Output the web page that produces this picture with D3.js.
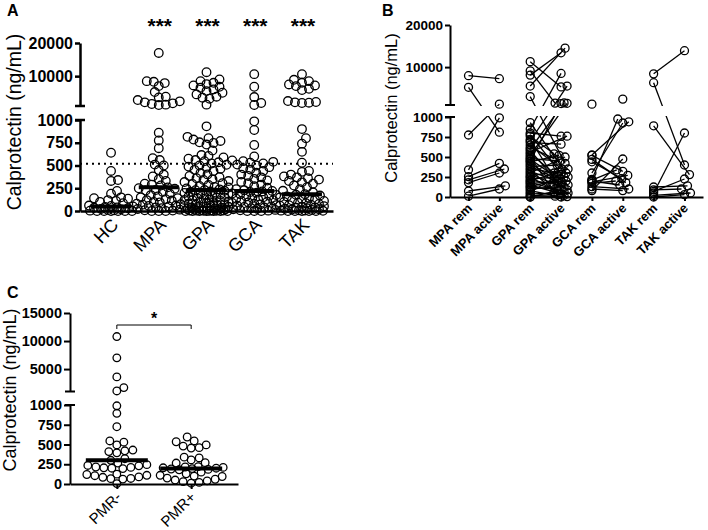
<!DOCTYPE html>
<html>
<head>
<meta charset="UTF-8">
<script src="https://d3js.org/d3.v7.min.js"></script>
<style>
  body { margin: 0; background: #fff; }
  text { font-family: "Liberation Sans", Arial, Helvetica, sans-serif; }
</style>
</head>
<body>
<div id="chart"></div>
<script>
// ---------- data ----------
// panel A
const catsA = ["HC", "MPA", "GPA", "GCA", "TAK"];
const hcVals = [640, 440, 340, 330, 220, 190, 150, 140, 135, 120, 110, 100, 85, 60, 55, 50, 45, 40, 35, 30, 22, 18, 12, 8, 4, 0, 0, 0, 0, 0, 0];
const mpaVals = [17000, 8500, 8300, 7900, 7000, 5200, 3800, 3600, 2800, 2400, 2100, 1800, 1600, 1400, 1300,
  860, 775, 690, 580, 560, 510, 500, 450, 400, 380, 350, 330, 300, 290, 280, 260,
  250, 245, 230, 225, 210, 190, 175, 160, 150, 140, 130, 120, 115, 100, 95, 80, 75, 70, 60, 55, 50, 40, 30, 22, 15, 8, 5, 0, 0, 0];
const gpaVals = [11200, 9000, 8500, 8000, 7600, 7200, 6800, 6500, 6000, 5500, 5000, 4500, 3800, 3500, 3200, 1400,
  930, 815, 800, 785, 770, 755, 748, 730, 665, 615, 605, 588, 575, 560, 548, 535, 522, 508, 500, 488, 476, 465, 452, 440,
  418, 402, 385, 372, 360, 348, 341, 329, 318, 305, 298, 287, 276, 265, 258, 248, 238, 230,
  228, 222, 214, 210, 203, 198, 192, 186, 180, 176, 168, 163, 158, 150, 146, 140, 133, 128, 122, 118, 110, 104, 98, 92,
  88, 80, 76, 70, 66, 60, 55, 50, 46, 40, 36, 32, 28, 25, 22, 18, 15, 12, 10, 8, 6, 5, 4, 3, 2, 1, 0, 0, 0, 0, 0, 0, 0];
const gcaVals = [10600, 6800, 3700, 1900, 1300,
  985, 890, 725, 600, 555, 548, 540, 530, 522, 510, 500, 482, 470, 455, 440, 420, 400, 385, 370, 352, 335, 320, 305, 290, 272, 255, 240, 228, 220,
  215, 208, 200, 192, 184, 176, 168, 160, 150, 142, 135, 126, 118, 110, 102, 95, 88, 80, 72, 65, 58, 50, 44, 38, 30, 24, 18, 12, 8, 4, 0, 0, 0];
const takVals = [10600, 8900, 8500, 8000, 7500, 7200, 7000, 6200, 5800, 2500, 2200, 2100, 2000, 1900,
  900, 800, 740, 650, 530, 440, 430, 400, 380, 370, 360, 345, 330, 315, 300, 280, 262, 240, 222, 205, 185,
  178, 170, 160, 150, 142, 133, 125, 118, 110, 100, 92, 85, 78, 70, 64, 58, 52, 46, 40, 35, 30, 25, 20, 16, 12, 9, 6, 4, 2, 0, 0, 0, 0, 0];
const groupsA = [hcVals, mpaVals, gpaVals, gcaVals, takVals];
const mediansA = [50, 260, 230, 220, 185];
const cutoffA = 520;
const starsA = ["", "***", "***", "***", "***"];

// panel B (paired: rem[i] -> active[i], null = no partner)
const catsB = ["MPA rem", "MPA active", "GPA rem", "GPA active", "GCA rem", "GCA active", "TAK rem", "TAK active"];
const mpaRem = [7960, 5200, 775, 340, 255, 215, 180, 75, 10];
const mpaAct = [7250, 810, 1200, 990, 420, 350, 300, 140, 100];
const gpaRem = [11300, 9100, 8100, 5500, 3000, 850, 700, 600, 520, 450, 930,
  800, 780, 760, 720, 680, 650, 620, 580, 560, 540, 500, 480, 470, 440, 420, 400, 380, 360, 340, 320,
  300, 280, 260, 250, 230, 210, 200, 180, 170, 150, 130, 120, 100, 80, 60, 40, 20, 0, 0];
const gpaAct = [5300, 1450, 13400, 14500, 420, 8500, 5500, 1500, 1400, 1350, 300,
  760, 250, 540, 100, 660, 350, 480, 200, 760, 300, 60, 450, 150, 520, 230, 90, 400, 280, 30, 180,
  500, 120, 350, 20, 250, 160, 310, 70, 200, 40, 220, 100, 130, 0, 260, 50, 10, 80, 5];
const gcaRem = [1200, 525, 520, 470, 440, 300, 220, 210, 200, 190, 170, 130, 100, 80, null];
const gcaAct = [null, 940, 320, 180, 230, 925, 975, 340, 150, 270, 200, 100, 80, 475, 2400];
const takRem = [8400, 6300, 890, 125, 90, 70, 50, 20, 0];
const takAct = [13900, 400, 280, 140, 100, 225, 800, 50, 30];
const pairsB = [[mpaRem, mpaAct], [gpaRem, gpaAct], [gcaRem, gcaAct], [takRem, takAct]];

// panel C
const catsC = ["PMR-", "PMR+"];
const pmrNeg = [10800, 7000, 3600, 1700, 1100,
  990, 895, 725, 545, 530, 495, 430, 420, 410, 395, 320, 300, 265, 245, 230, 215, 205, 195, 200, 210, 235,
  120, 105, 85, 70, 62, 68, 90, 110, 125, 5];
const pmrPos = [595, 545, 535, 495, 480, 460, 455, 340, 330, 305, 270, 265, 220, 215, 210, 205, 200, 195, 190,
  185, 180, 150, 130, 110, 100, 95, 75, 60, 50, 40, 30, 20, 10];
const groupsC = [pmrNeg, pmrPos];
const mediansC = [300, 195];
const starC = "*";

const ticksLower = [0, 250, 500, 750, 1000];
const ticksUpperA = [10000, 20000];
const ticksUpperB = [10000, 20000];
const ticksUpperC = [5000, 10000, 15000];

// ---------- helpers ----------
const width = 708, height = 530;
const svg = d3.select("#chart").append("svg")
  .attr("width", width).attr("height", height);

function broken(lo, hi) {
  return v => v > 1000 ? hi(v) : lo(v);
}

// simple beeswarm: returns [{v, y, dx}]
function swarm(vals, yf, sep, maxW) {
  const pts = vals.map(v => ({v: v, y: yf(v)})).sort((a, b) => b.y - a.y);
  const placed = [];
  pts.forEach(p => {
    let pick = 0, bestD = -1;
    for (let k = 0; k <= 2 * maxW; k++) {
      const dx = k === 0 ? 0 : (k % 2 ? 1 : -1) * Math.ceil(k / 2);
      let dmin = Infinity;
      for (const q of placed) {
        const d = Math.hypot(q.dx - dx, q.y - p.y);
        if (d < dmin) dmin = d;
      }
      if (dmin >= sep) { pick = dx; break; }
      if (dmin > bestD) { bestD = dmin; pick = dx; }
    }
    p.dx = pick;
    placed.push(p);
  });
  return pts;
}

function drawYAxis(g, x, lo, hi, hiTicks, o) {
  const styleAxis = sel => {
    sel.selectAll(".domain").attr("stroke-width", o.sw);
    sel.selectAll(".tick line").attr("stroke-width", o.sw);
    sel.selectAll(".tick text")
      .attr("font-size", o.fs).attr("font-weight", "bold")
      .attr("font-family", "Liberation Sans, Arial, sans-serif").attr("fill", "#000");
  };
  g.append("g").attr("transform", `translate(${x},0)`)
    .call(d3.axisLeft(lo).tickValues(ticksLower).tickSize(o.ts).tickSizeOuter(0).tickPadding(2).tickFormat(d3.format("d")))
    .call(styleAxis);
  g.append("g").attr("transform", `translate(${x},0)`)
    .call(d3.axisLeft(hi).tickValues(hiTicks).tickSize(o.ts).tickSizeOuter(0).tickPadding(2).tickFormat(d3.format("d")))
    .call(styleAxis);
  // segment end caps
  [lo(1000), hi(1000)].forEach(yy => {
    g.append("line").attr("x1", x - 5).attr("x2", x + 5).attr("y1", yy).attr("y2", yy)
      .attr("stroke", "#000").attr("stroke-width", o.sw);
  });
}

function drawXAxis(g, xs, y0, o) {
  const ax = g.append("g").attr("transform", `translate(0,${y0})`)
    .call(d3.axisBottom(xs).tickSize(o.ts).tickSizeOuter(0));
  ax.selectAll(".domain").attr("stroke-width", o.sw);
  ax.selectAll(".tick line").attr("stroke-width", o.sw);
  ax.selectAll(".tick text")
    .attr("x", 0).attr("y", 0).attr("dy", 0)
    .attr("transform", `translate(${o.dx},${o.dy}) rotate(-45)`)
    .attr("text-anchor", "end")
    .attr("font-size", o.fs).attr("font-weight", o.fw)
    .attr("font-family", "Liberation Sans, Arial, sans-serif").attr("fill", "#000");
}

function yLabel(g, x, y, fs) {
  g.append("text").attr("transform", `translate(${x},${y}) rotate(-90)`)
    .attr("text-anchor", "middle").attr("font-size", fs)
    .text("Calprotectin (ng/mL)");
}

function panelLetter(x, y, t) {
  svg.append("text").attr("x", x).attr("y", y).attr("font-size", 16)
    .attr("font-weight", "bold").text(t);
}

// ---------- panel A ----------
const gA = svg.append("g");
const xA = d3.scalePoint().domain(catsA).range([80, 333]).padding(0.65);
const yAlo = d3.scaleLinear().domain([0, 1000]).range([211, 120]);
const yAhi = d3.scaleLinear().domain([1000, 20000]).range([106, 43]);
const yA = broken(yAlo, yAhi);

panelLetter(7, 16, "A");
yLabel(gA, 21, 122, 19.5);

gA.append("line")
  .attr("x1", xA.range()[0]).attr("x2", xA.range()[1])
  .attr("y1", yA(cutoffA)).attr("y2", yA(cutoffA))
  .attr("stroke", "#000").attr("stroke-width", 2).attr("stroke-dasharray", "2,4");

groupsA.forEach((vals, i) => {
  const cx = xA(catsA[i]);
  const pts = swarm(vals, yA, 6.5, 22);
  gA.selectAll(null).data(pts).enter().append("circle")
    .attr("cx", d => cx + d.dx).attr("cy", d => d.y).attr("r", 4.3)
    .attr("fill", "none").attr("stroke", "#000").attr("stroke-width", 1.3);
});

gA.selectAll("line.medA").data(mediansA).enter().append("line")
  .attr("class", "medA")
  .attr("x1", (d, i) => xA(catsA[i]) - 20).attr("x2", (d, i) => xA(catsA[i]) + 20)
  .attr("y1", d => yA(d)).attr("y2", d => yA(d))
  .attr("stroke", "#000").attr("stroke-width", 4);

gA.selectAll("text.star").data(starsA).enter().append("text")
  .attr("class", "star")
  .attr("x", (d, i) => xA(catsA[i]) + 1).attr("y", 33)
  .attr("text-anchor", "middle").attr("font-size", 21).attr("font-weight", "bold")
  .text(d => d);

drawYAxis(gA, 80, yAlo, yAhi, ticksUpperA, {sw: 2.5, ts: 5, fs: 16});
drawXAxis(gA, xA, 211, {sw: 2.5, ts: 0, fs: 18, fw: "normal", dx: 8, dy: 15});

// ---------- panel B ----------
const gB = svg.append("g");
const xB = d3.scalePoint().domain(catsB).range([450, 703]).padding(0.6);
const yBlo = d3.scaleLinear().domain([0, 1000]).range([197, 117]);
const yBhi = d3.scaleLinear().domain([1000, 20000]).range([105, 25]);
const yB = broken(yBlo, yBhi);

panelLetter(382, 16, "B");
yLabel(gB, 397, 108, 16.5);

const defs = svg.append("defs");
defs.append("clipPath").attr("id", "clipHi").append("rect")
  .attr("x", 440).attr("y", 0).attr("width", 270).attr("height", yBhi(1000) + 1);
defs.append("clipPath").attr("id", "clipLo").append("rect")
  .attr("x", 440).attr("y", yBlo(1000) - 1).attr("width", 270).attr("height", 120);

pairsB.forEach((pair, k) => {
  const xr = xB(catsB[2 * k]), xa = xB(catsB[2 * k + 1]);
  const rem = pair[0], act = pair[1];
  // jitter for the active column only
  const actPts = swarm(act.filter(v => v !== null), yB, 6, 7);
  const used = actPts.map(() => false);
  const actX = act.map(v => {
    if (v === null) return null;
    const j = actPts.findIndex((p, idx) => !used[idx] && p.v === v);
    used[j] = true;
    return xa + actPts[j].dx;
  });
  const segs = rem.map((r, i) => ({r: r, a: act[i], xa: actX[i]}))
    .filter(d => d.r !== null && d.a !== null);
  ["clipHi", "clipLo"].forEach(c => {
    gB.append("g").attr("clip-path", `url(#${c})`)
      .selectAll("line").data(segs).enter().append("line")
      .attr("x1", xr).attr("y1", d => yB(d.r))
      .attr("x2", d => d.xa).attr("y2", d => yB(d.a))
      .attr("stroke", "#000").attr("stroke-width", 1.3);
  });
  gB.selectAll(null).data(rem.filter(v => v !== null)).enter().append("circle")
    .attr("cx", xr).attr("cy", d => yB(d)).attr("r", 4)
    .attr("fill", "none").attr("stroke", "#000").attr("stroke-width", 1.3);
  gB.selectAll(null).data(act.map((v, i) => ({v: v, x: actX[i]})).filter(d => d.v !== null))
    .enter().append("circle")
    .attr("cx", d => d.x).attr("cy", d => yB(d.v)).attr("r", 4)
    .attr("fill", "none").attr("stroke", "#000").attr("stroke-width", 1.3);
});

drawYAxis(gB, 450, yBlo, yBhi, ticksUpperB, {sw: 2, ts: 5, fs: 13.5});
drawXAxis(gB, xB, 197, {sw: 2, ts: 4, fs: 13, fw: "bold", dx: 4, dy: 12});

// ---------- panel C ----------
const gC = svg.append("g");
const xC = d3.scalePoint().domain(catsC).range([70, 238]).padding(0.63);
const yClo = d3.scaleLinear().domain([0, 1000]).range([484, 405]);
const yChi = d3.scaleLinear().domain([1000, 15000]).range([391.5, 313]);
const yC = broken(yClo, yChi);

panelLetter(7, 298, "C");
yLabel(gC, 16, 390, 18);

groupsC.forEach((vals, i) => {
  const cx = xC(catsC[i]);
  const pts = swarm(vals, yC, 7.5, 32);
  gC.selectAll(null).data(pts).enter().append("circle")
    .attr("cx", d => cx + d.dx).attr("cy", d => d.y).attr("r", 3.8)
    .attr("fill", "none").attr("stroke", "#000").attr("stroke-width", 1.3);
});

gC.selectAll("line.medC").data(mediansC).enter().append("line")
  .attr("class", "medC")
  .attr("x1", (d, i) => xC(catsC[i]) - 31).attr("x2", (d, i) => xC(catsC[i]) + 31)
  .attr("y1", d => yC(d)).attr("y2", d => yC(d))
  .attr("stroke", "#000").attr("stroke-width", 4);

const bx1 = xC(catsC[0]), bx2 = xC(catsC[1]), by = 325;
gC.append("path")
  .attr("d", `M${bx1},${by + 4}V${by}H${bx2}V${by + 4}`)
  .attr("fill", "none").attr("stroke", "#000").attr("stroke-width", 1);
gC.append("text").attr("x", (bx1 + bx2) / 2).attr("y", by - 1)
  .attr("text-anchor", "middle").attr("font-size", 16).attr("font-weight", "bold").text(starC);

drawYAxis(gC, 70, yClo, yChi, ticksUpperC, {sw: 2, ts: 6, fs: 14.5});
drawXAxis(gC, xC, 484, {sw: 2, ts: 5, fs: 15, fw: "normal", dx: 5, dy: 14});
</script>
</body>
</html>
